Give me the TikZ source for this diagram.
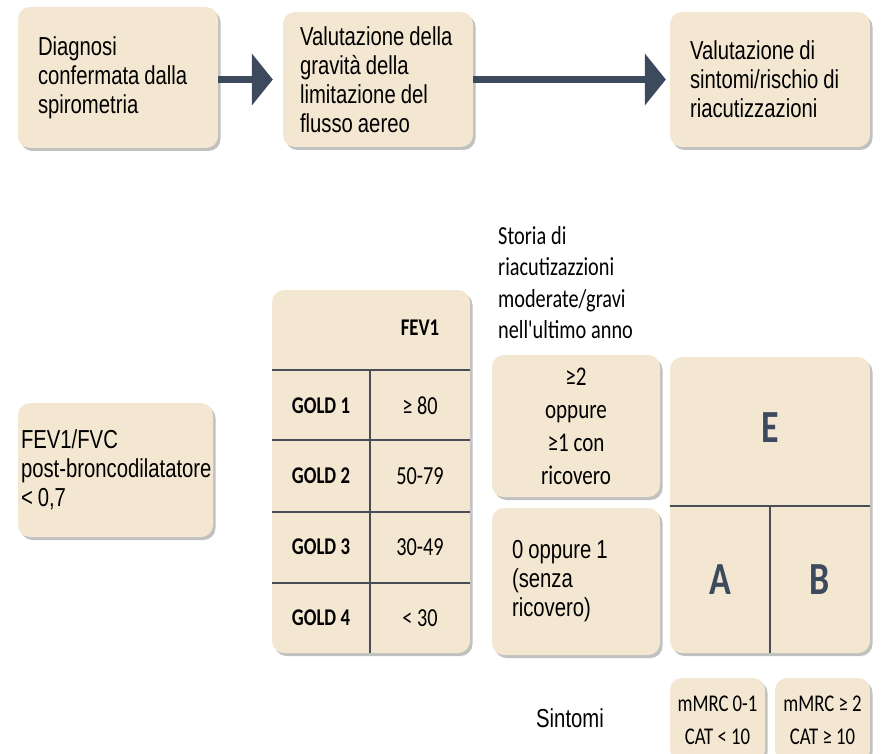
\documentclass[tikz,border=0pt]{standalone}
\usepackage{fontspec}
\usepackage{xcolor}
\usetikzlibrary{shadows,arrows.meta}

\newfontfamily\arialn[FakeStretch=0.78]{Liberation Sans}
\newfontfamily\calib[FakeStretch=0.78]{Carlito}
\newcommand\narrowspace{\spaceskip=5pt plus 1pt minus 1pt\xspaceskip=5pt\relax}

\definecolor{boxfill}{RGB}{244,231,210}
\definecolor{slate}{RGB}{61,73,93}
\definecolor{gridline}{RGB}{72,77,88}

\tikzset{
  box/.style={rectangle,rounded corners=12pt,fill=boxfill,inner ysep=0pt,
    drop shadow={shadow xshift=2.5pt,shadow yshift=-3pt,opacity=.35,fill=black!70}},
  flowtext/.style={font=\arialn\fontsize{26}{29}\selectfont,align=left,
    execute at begin node=\narrowspace},
  caltext/.style={font=\calib\fontsize{27}{33}\selectfont,align=center},
  cell/.style={font=\calib\fontsize{26}{28}\selectfont,inner sep=0pt},
  goldcell/.style={font=\calib\bfseries\fontsize{24}{28}\selectfont,inner sep=0pt},
  group/.style={font=\calib\bfseries\fontsize{46}{50}\selectfont,text=slate,inner sep=0pt},
  flowarrow/.style={draw=slate,line width=7pt,
    -{Triangle[length=21pt,width=51pt]}}
}

\begin{document}
\begin{tikzpicture}[x=1pt,y=-1pt]
  \useasboundingbox (0,0) rectangle (883,754);

  % top row
  \node (diagnosi) at (118,77.5) [box,flowtext,minimum width=200,minimum height=141,
    text width=160,inner xsep=20] {Diagnosi\\confermata dalla\\spirometria};
  \node (gravita) at (378,79.5) [box,flowtext,minimum width=190,minimum height=135,
    text width=156,inner xsep=17] {Valutazione~della\\gravità della\\limitazione del\\flusso aereo};
  \node (valsint) at (770,79.5) [box,flowtext,minimum width=200,minimum height=135,
    text width=160,inner xsep=20] {Valutazione di\\sintomi/rischio di\\riacutizzazioni};

  \draw[flowarrow,shorten >=10pt] (diagnosi.east |- gravita) -- (gravita);
  \draw[flowarrow,shorten >=4pt] (gravita) -- (valsint);

  % spirometry
  \node (fevfvc) at (115.5,470) [box,flowtext,minimum width=195,minimum height=134,
    text width=189,inner xsep=3] {FEV1/FVC\\\mbox{post-broncodilatatore}\\< 0,7};

  % GOLD table
  \node (fevtab) at (371,471.5) [box,minimum width=198,minimum height=363] {};
  \coordinate (colx) at (370,0);
  \draw[gridline,line width=1.3pt]
    (fevtab.west |- 0,370) -- (fevtab.east |- 0,370)
    (fevtab.west |- 0,440) -- (fevtab.east |- 0,440)
    (fevtab.west |- 0,512) -- (fevtab.east |- 0,512)
    (fevtab.west |- 0,583) -- (fevtab.east |- 0,583)
    (colx |- 0,370) -- (colx |- fevtab.south);
  \node (fevhead) at (420,328) [goldcell] {FEV1};
  \node (gold1) at (321,406) [goldcell] {GOLD 1};
  \node (gold2) at (321,476) [goldcell] {GOLD 2};
  \node (gold3) at (321,547) [goldcell] {GOLD 3};
  \node (gold4) at (321,618) [goldcell] {GOLD 4};
  \node (val1) at (420,406) [cell] {≥ 80};
  \node (val2) at (420,476) [cell] {50-79};
  \node (val3) at (420,547) [cell] {30-49};
  \node (val4) at (420,618) [cell] {< 30};

  % exacerbation history
  \node (storia) at (498,226) [anchor=north west,inner sep=0pt,align=left,
    font=\calib\fontsize{26}{31.5}\selectfont,execute at begin node=\narrowspace]
    {Storia di\\riacutizazzioni\\moderate/gravi\\nell'ultimo anno};
  \node (riac2) at (576,426) [box,caltext,minimum width=168,minimum height=142]
    {≥2\\oppure\\≥1 con\\ricovero};
  \node (riac0) at (576,581.5) [box,flowtext,minimum width=168,minimum height=147,
    text width=128,inner xsep=20] {0 oppure 1\\(senza\\ricovero)};

  % groups A, B, E
  \node (gruppi) at (770,505) [box,minimum width=200,minimum height=296] {};
  \draw[gridline,line width=1.3pt]
    (gruppi.west |- 0,506) -- (gruppi.east |- 0,506)
    (gruppi.center |- 0,506) -- (gruppi.south);
  \node (grpE) at (770,428) [group] {E};
  \node (grpA) at (720,580) [group] {A};
  \node (grpB) at (820,580) [group] {B};

  % symptoms
  \node (sintomi) at (570,718) [flowtext] {Sintomi};
  \node (mmrc01) at (717.5,720) [box,font=\calib\fontsize{24}{33}\selectfont,align=center,
    minimum width=95,minimum height=84] {mMRC 0-1\\CAT < 10};
  \node (mmrc2) at (822.5,720) [box,font=\calib\fontsize{24}{33}\selectfont,align=center,
    minimum width=95,minimum height=84] {mMRC ≥ 2\\CAT ≥ 10};
\end{tikzpicture}
\end{document}
